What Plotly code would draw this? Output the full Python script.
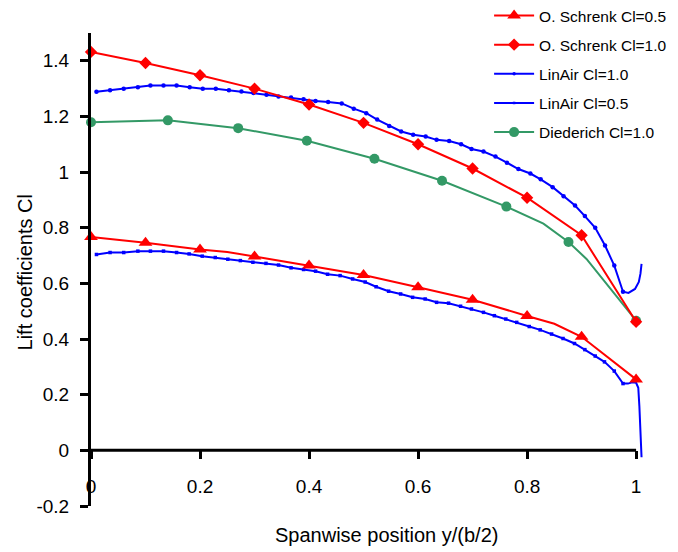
import plotly.graph_objects as go

# ---------------- data ----------------
x_ticks = [0, 0.2, 0.4, 0.6, 0.8, 1.0]
x_tick_labels = ["0", "0.2", "0.4", "0.6", "0.8", "1"]
y_ticks = [-0.2, 0, 0.2, 0.4, 0.6, 0.8, 1.0, 1.2, 1.4]
y_tick_labels = ["-0.2", "0", "0.2", "0.4", "0.6", "0.8", "1", "1.2", "1.4"]

# O. Schrenk Cl=0.5 (marked stations + unmarked bend points)
schrenk05_x = [0, 0.1, 0.2, 0.3, 0.4, 0.5, 0.6, 0.7, 0.8, 0.9, 1.0]
schrenk05_y = [0.767, 0.746, 0.722, 0.697, 0.664, 0.630, 0.586, 0.541, 0.483, 0.408, 0.255]
schrenk05_bend_x = [0.25, 0.85]
schrenk05_bend_y = [0.713, 0.455]

# O. Schrenk Cl=1.0
schrenk10_x = [0, 0.1, 0.2, 0.3, 0.4, 0.5, 0.6, 0.7, 0.8, 0.9, 1.0]
schrenk10_y = [1.432, 1.392, 1.348, 1.300, 1.243, 1.177, 1.100, 1.013, 0.908, 0.773, 0.462]

# LinAir Cl=1.0
linair10_x = [0.010, 0.035, 0.060, 0.086, 0.109, 0.133, 0.157, 0.181, 0.205, 0.229,
              0.253, 0.276, 0.298, 0.322, 0.344, 0.367, 0.390, 0.412, 0.435, 0.460,
              0.482, 0.505, 0.525, 0.547, 0.569, 0.591, 0.614, 0.634, 0.657, 0.679,
              0.698, 0.720, 0.742, 0.763, 0.784, 0.806, 0.825, 0.847, 0.867, 0.888,
              0.906, 0.925, 0.943, 0.960, 0.976]
linair10_y = [1.289, 1.294, 1.300, 1.305, 1.311, 1.311, 1.311, 1.305, 1.300, 1.300,
              1.294, 1.290, 1.284, 1.278, 1.272, 1.268, 1.262, 1.256, 1.252, 1.247,
              1.228, 1.212, 1.189, 1.166, 1.146, 1.134, 1.128, 1.116, 1.112, 1.100,
              1.083, 1.074, 1.056, 1.034, 1.011, 0.995, 0.974, 0.946, 0.913, 0.880,
              0.842, 0.800, 0.736, 0.664, 0.570]
linair10_tip_x = [0.986, 0.998, 1.005, 1.008, 1.010]
linair10_tip_y = [0.566, 0.580, 0.605, 0.635, 0.670]

# LinAir Cl=0.5
linair05_x = [0.010, 0.035, 0.060, 0.086, 0.109, 0.133, 0.157, 0.180, 0.204, 0.228,
              0.251, 0.274, 0.297, 0.321, 0.344, 0.367, 0.390, 0.412, 0.434, 0.457,
              0.480, 0.503, 0.523, 0.546, 0.568, 0.590, 0.613, 0.634, 0.656, 0.678,
              0.698, 0.720, 0.740, 0.761, 0.781, 0.804, 0.824, 0.845, 0.866, 0.887,
              0.906, 0.925, 0.942, 0.960, 0.976]
linair05_y = [0.704, 0.711, 0.711, 0.716, 0.716, 0.716, 0.711, 0.706, 0.698, 0.693,
              0.687, 0.682, 0.676, 0.672, 0.666, 0.656, 0.650, 0.644, 0.633, 0.628,
              0.616, 0.605, 0.588, 0.572, 0.562, 0.550, 0.544, 0.532, 0.529, 0.518,
              0.508, 0.496, 0.484, 0.472, 0.460, 0.445, 0.433, 0.418, 0.402, 0.384,
              0.362, 0.339, 0.318, 0.285, 0.240]
linair05_tip_x = [0.985, 0.993, 1.000, 1.004, 1.006, 1.008, 1.010]
linair05_tip_y = [0.240, 0.245, 0.243, 0.225, 0.159, 0.063, -0.025]

# Diederich Cl=1.0
diederich_x = [0, 0.141, 0.270, 0.396, 0.520, 0.644, 0.762, 0.876, 1.0]
diederich_y = [1.179, 1.186, 1.158, 1.113, 1.048, 0.969, 0.876, 0.749, 0.466]
diederich_bend_x = [0.830, 0.909]
diederich_bend_y = [0.815, 0.688]

series_names = ["O. Schrenk Cl=0.5", "O. Schrenk Cl=1.0", "LinAir Cl=1.0",
                "LinAir Cl=0.5", "Diederich Cl=1.0"]

# ---------------- styling ----------------
RED = "#FF0000"
BLUE = "#0000FF"
GREEN = "#339966"
FONT = "Liberation Sans, Arial, sans-serif"


def merged(xa, ya, xb, yb):
    pts = sorted(zip(list(xa) + list(xb), list(ya) + list(yb)))
    return [p[0] for p in pts], [p[1] for p in pts]


styles = [
    dict(color=RED, symbol="triangle-up", size=12, lw=2),
    dict(color=RED, symbol="diamond", size=9.5, lw=2),
    dict(color=BLUE, symbol="circle", size=4.5, lw=2),
    dict(color=BLUE, symbol="square", size=3.5, lw=2),
    dict(color=GREEN, symbol="circle", size=10, lw=2),
]

line_data = [
    merged(schrenk05_x, schrenk05_y, schrenk05_bend_x, schrenk05_bend_y),
    (schrenk10_x, schrenk10_y),
    merged(linair10_x, linair10_y, linair10_tip_x, linair10_tip_y),
    merged(linair05_x, linair05_y, linair05_tip_x, linair05_tip_y),
    merged(diederich_x, diederich_y, diederich_bend_x, diederich_bend_y),
]
marker_data = [
    (schrenk05_x, schrenk05_y),
    (schrenk10_x, schrenk10_y),
    (linair10_x, linair10_y),
    (linair05_x, linair05_y),
    (diederich_x, diederich_y),
]

fig = go.Figure()

# draw order: Diederich under, then LinAir, then Schrenk on top
for i in [4, 3, 2, 0, 1]:
    st = styles[i]
    lx, ly = line_data[i]
    mx, my = marker_data[i]
    fig.add_trace(go.Scatter(x=lx, y=ly, mode="lines",
                             line=dict(color=st["color"], width=st["lw"]),
                             showlegend=False, hoverinfo="skip"))
    fig.add_trace(go.Scatter(x=mx, y=my, mode="markers",
                             marker=dict(color=st["color"], symbol=st["symbol"], size=st["size"],
                                         line=dict(width=0)),
                             showlegend=False, cliponaxis=False))

# legend entries
for i, name in enumerate(series_names):
    st = styles[i]
    fig.add_trace(go.Scatter(x=[None], y=[None], mode="lines+markers", name=name,
                             legendgroup=name,
                             line=dict(color=st["color"], width=st["lw"]),
                             marker=dict(color=st["color"], symbol=st["symbol"],
                                         size=st["size"] if i not in (2, 3) else st["size"] - 1)))

Y0_FRAC = (0 - (-0.2)) / (1.5 - (-0.2))

# page has an 8px body margin, so the figure is 8px smaller on each axis
fig.update_layout(
    width=670, height=544,
    margin=dict(l=83, r=31, t=25, b=46, autoexpand=False),
    paper_bgcolor="white", plot_bgcolor="white",
    font=dict(family=FONT, color="black", size=19),
    showlegend=True,
    legend=dict(x=0.716, y=1.072, xanchor="left", yanchor="top",
                font=dict(size=15.5, family=FONT, color="black"),
                bgcolor="rgba(0,0,0,0)", traceorder="grouped", tracegroupgap=6,
                itemwidth=40),
    xaxis=dict(range=[0, 1.02], anchor="free", position=Y0_FRAC, automargin=False,
               showline=False, showgrid=False, zeroline=False,
               tickmode="array", tickvals=x_ticks, ticktext=x_tick_labels,
               ticks="outside", ticklen=8, tickwidth=2.5, tickcolor="black",
               tickfont=dict(size=19, family=FONT, color="black"),
               ticklabelstandoff=11),
    yaxis=dict(range=[-0.2, 1.5], showline=True, linewidth=3, linecolor="black",
               showgrid=False, zeroline=False, automargin=False,
               tickmode="array", tickvals=y_ticks, ticktext=y_tick_labels,
               ticks="outside", ticklen=8, tickwidth=2.5, tickcolor="black",
               tickfont=dict(size=19, family=FONT, color="black"),
               ticklabelstandoff=7),
)

# x axis line at y = 0, ending at x = 1
fig.add_shape(type="line", xref="x", yref="y", x0=0, x1=1, y0=0, y1=0,
              line=dict(color="black", width=3), layer="above")

fig.add_annotation(text="Spanwise position y/(b/2)", xref="paper", yref="paper",
                   x=0.5315, y=-0.0613, showarrow=False,
                   font=dict(size=20, family=FONT, color="black"),
                   xanchor="center", yanchor="middle")
fig.add_annotation(text="Lift coefficients Cl", xref="paper", yref="paper",
                   x=-0.1187, y=0.4937, showarrow=False, textangle=-90,
                   font=dict(size=20, family=FONT, color="black"),
                   xanchor="center", yanchor="middle")

fig.write_html("out.html")
